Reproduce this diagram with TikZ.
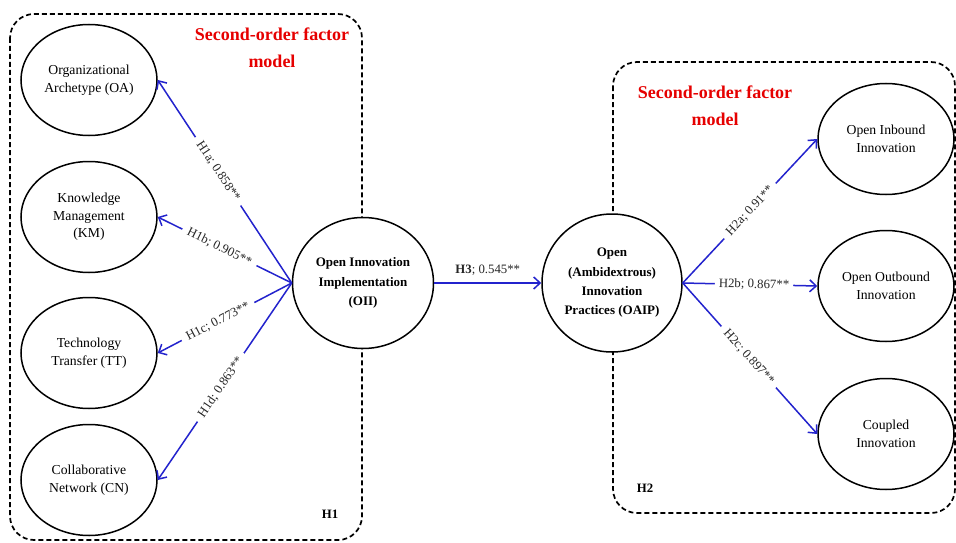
\documentclass[tikz,border=0pt]{standalone}
\usepackage{fontspec}
\setmainfont{Liberation Serif}
\usetikzlibrary{shapes.geometric,arrows.meta}
\definecolor{arrowblue}{RGB}{35,35,205}
\definecolor{titlered}{RGB}{230,0,0}
\tikzset{
  grpbox/.style={draw=black, line width=1.7pt, dash pattern=on 5pt off 3pt, rounded corners=24pt},
  latent/.style={draw=black, line width=1.5pt, ellipse, fill=white, inner sep=0pt, align=center,
    minimum width=136pt, minimum height=111pt, font=\fontsize{13.7}{17.5}\selectfont},
  central/.style={latent, font=\fontsize{13}{19.3}\selectfont\bfseries},
  path/.style={draw=arrowblue, line width=1.5pt, -{Straight Barb[length=6.5pt,width=12pt,line width=1.5pt]}},
  plabel/.style={fill=white, inner xsep=6pt, inner ysep=1.5pt, sloped, text=black!85, font=\fontsize{12.8}{14}\selectfont},
  title/.style={text=titlered, align=center, font=\fontsize{18}{27}\selectfont\bfseries},
  grplabel/.style={font=\fontsize{12.8}{14}\selectfont\bfseries}
}
\begin{document}
\begin{tikzpicture}[x=1pt,y=-1pt]
\useasboundingbox (0,0) rectangle (956,543);
\fill[white] (0,0) rectangle (956,543);
% group boxes
\draw[grpbox] (10,14) rectangle (362,540);
\draw[grpbox] (613,62) rectangle (955,513);
% titles
\node[title] (t1) at (272,48) {Second-order factor\\model};
\node[title] (t2) at (715,106) {Second-order factor\\model};
\node[grplabel] (h1) at (330,514) {H1};
\node[grplabel] (h2) at (645,488) {H2};
% left latent variables
\node[latent] (oa) at (89,80) {Organizational\\Archetype (OA)};
\node[latent] (km) at (89,217) {Knowledge\\Management\\(KM)};
\node[latent] (tt) at (89,353) {Technology\\Transfer (TT)};
\node[latent] (cn) at (89,480) {Collaborative\\Network (CN)};
% central constructs
\node[central, minimum width=141pt, minimum height=131pt] (oii) at (363,283) {Open Innovation\\Implementation\\(OII)};
\node[central, minimum width=140pt, minimum height=138pt] (oaip) at (612,283) {Open\\(Ambidextrous)\\Innovation\\Practices (OAIP)};
% right latent variables
\node[latent] (oin) at (886,139) {Open Inbound\\Innovation};
\node[latent] (oout) at (886,286) {Open Outbound\\Innovation};
\node[latent] (coup) at (886,434) {Coupled\\Innovation};
% paths
\draw[path] (oii.west) -- node[plabel, pos=0.55] {H1a; 0.858**} (oa.east);
\draw[path] (oii.west) -- node[plabel, pos=0.54] {H1b; 0.905**} (km.east);
\draw[path] (oii.west) -- node[plabel, pos=0.55] {H1c; 0.773**} (tt.east);
\draw[path] (oii.west) -- node[plabel, pos=0.53] {H1d; 0.863**} (cn.east);
\draw[path] (oii.east) -- node[inner sep=1pt, above=6pt, text=black!85, font=\fontsize{12.8}{14}\selectfont] {\textbf{H3}; 0.545**} (oaip.west);
\draw[path] (oaip.east) -- node[plabel, pos=0.5] {H2a; 0.91**} (oin.west);
\draw[path] (oaip.east) -- node[plabel, pos=0.53, inner xsep=4pt] {H2b; 0.867**} (oout.west);
\draw[path] (oaip.east) -- node[plabel, pos=0.49] {H2c; 0.897**} (coup.west);
\end{tikzpicture}
\end{document}
